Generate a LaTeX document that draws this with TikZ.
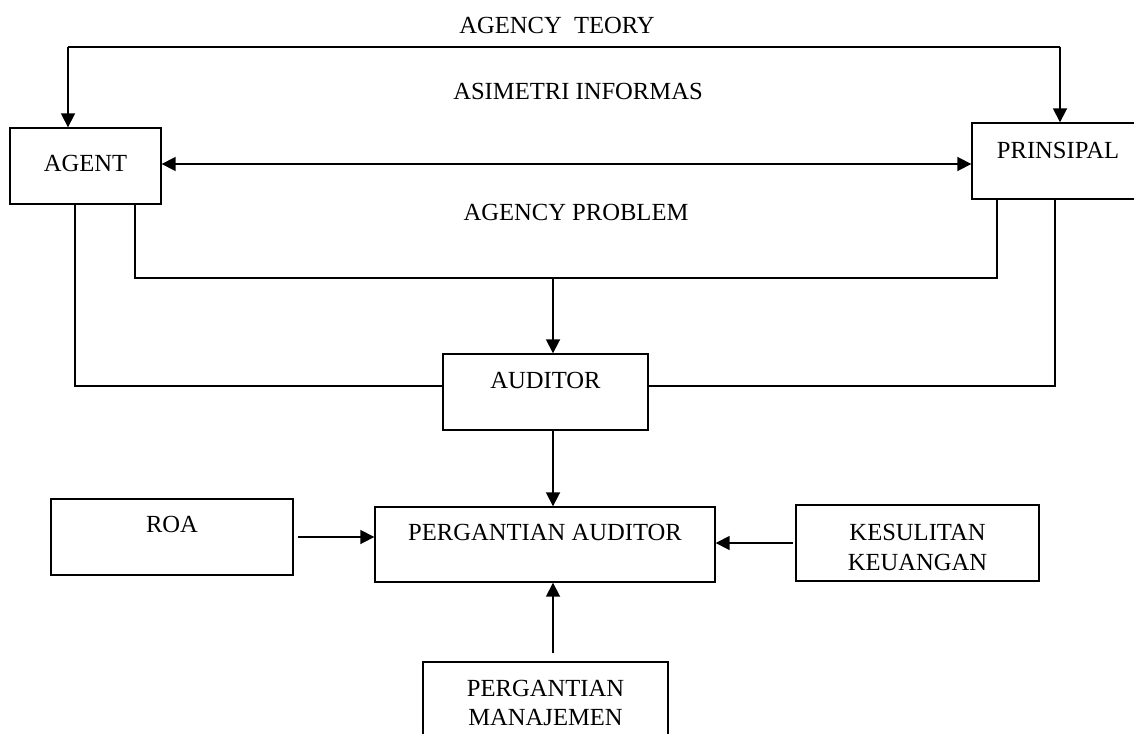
\documentclass[tikz,border=0pt]{standalone}
\usepackage{fontspec}
\setmainfont{Liberation Serif}
\usetikzlibrary{arrows.meta}

\begin{document}
\begin{tikzpicture}[x=0.5pt, y=-0.5pt,
  every node/.style={font=\fontsize{12.3}{15}\selectfont},
  box/.style={draw, line width=0.7pt, minimum width=#1},
  box/.default=100pt,
  link/.style={line width=0.7pt},
  arrowline/.style={line width=0.9pt},
  >={Triangle[length=7pt, width=7pt]}]
  \clip (0,0) rectangle (1134,733);

  % top labels
  \node (teory) at (557,25) {AGENCY\ \ TEORY};
  \node (asimetri) at (578,91) {ASIMETRI INFORMAS};
  \node (problem) at (576,212) {AGENCY PROBLEM};

  % AGENT and PRINSIPAL boxes
  \node[box=75.5pt, minimum height=38pt] (agent) at (85.5,166) {};
  \node (agenttext) at ([yshift=1.5pt]agent.center) {AGENT};
  \node[box=86pt, minimum height=38pt] (prinsipal) at (1058,161) {};
  \node (prinsipaltext) at ([yshift=5.5pt]prinsipal.center) {PRINSIPAL};

  % AUDITOR box
  \node[box=102.5pt, minimum height=38pt] (auditor) at (545.5,392) {};
  \node (auditortext) at ([yshift=6pt]auditor.center) {AUDITOR};

  % PERGANTIAN AUDITOR and its factors
  \node[box=170pt, minimum height=37.5pt] (pa) at (545,544.5) {};
  \node (patext) at ([yshift=6.25pt]pa.center) {PERGANTIAN AUDITOR};
  \node[box=121pt, minimum height=38pt] (roa) at (172,537) {};
  \node (roatext) at ([yshift=6.5pt]roa.center) {ROA};
  \node[box=121.5pt, minimum height=38pt] (kk) at (917.5,543) {};
  \node[align=center] (kktext) at ([yshift=-2pt]kk.center) {KESULITAN\\KEUANGAN};
  \node[box=122.5pt, minimum height=41.5pt] (pm) at (545.5,703.5) {};
  \node[align=center, font=\fontsize{12.3}{14.5}\selectfont] (pmtext) at ([yshift=0.5pt]pm.center) {PERGANTIAN\\MANAJEMEN};

  % helper coordinates
  \coordinate (tl) at (68,47);
  \coordinate (tr) at (1060,47);
  \coordinate (axis) at (0,164);
  \coordinate (inner) at (553,278);
  \coordinate (col) at (553,0);

  % agency teory frame
  \draw[line width=0.6pt] (tl) -- (tr);
  \draw[->, arrowline] (tl) -- (tl |- agent.north);
  \draw[->, arrowline] (tr) -- (tr |- prinsipal.north);

  % asimetri informasi
  \draw[<->, arrowline] (agent.east |- axis) -- (prinsipal.west |- axis);

  % agency problem frame
  \draw[link] ([xshift=24.75pt]agent.south) |- (inner) -| ([xshift=-30.5pt]prinsipal.south);
  \draw[->, arrowline] (inner) -- (inner |- auditor.north);

  % outer frame to auditor
  \draw[link] ([xshift=-5.25pt]agent.south) |- ([yshift=3pt]auditor.west);
  \draw[link] ([yshift=3pt]auditor.east) -| ([xshift=-1.5pt]prinsipal.south);

  % into pergantian auditor
  \draw[->, arrowline] (col |- auditor.south) -- (col |- pa.north);
  \draw[->, arrowline, shorten <=2pt] (roa.east) -- (roa.east -| pa.west);
  \draw[->, arrowline, shorten <=1pt] (kk.west) -- (kk.west -| pa.east);
  \draw[->, arrowline, shorten <=4pt] (col |- pm.north) -- (col |- pa.south);
\end{tikzpicture}
\end{document}
